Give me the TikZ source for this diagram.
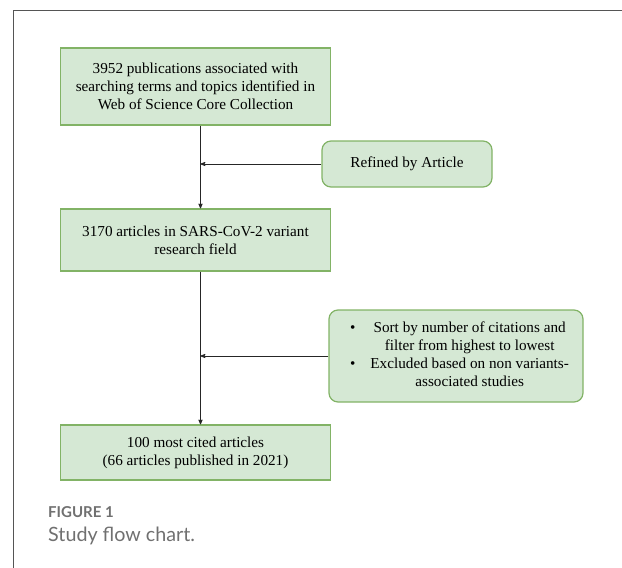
\documentclass[tikz,border=0pt]{standalone}
\usepackage{fontspec}
\setmainfont{Liberation Serif}
\newfontfamily\capfont{Lato}
\usetikzlibrary{arrows,positioning,calc}
\definecolor{boxfill}{HTML}{D5E8D4}
\definecolor{boxline}{HTML}{82B366}
\definecolor{framegray}{HTML}{555555}
\definecolor{capgray}{HTML}{707070}

\begin{document}
\begin{tikzpicture}[x=1pt,y=-1pt,>=stealth',
  box/.style={draw=boxline,fill=boxfill,line width=1.2pt,align=center,inner sep=0pt,
    font=\fontsize{15.2}{17.8}\selectfont},
  stepbox/.style={box,minimum width=270pt},
  notebox/.style={box,rounded corners=9pt},
  link/.style={draw=black!85,line width=0.8pt}]
\useasboundingbox (0,0) rectangle (622,568);
% frame of the panel
\draw[framegray,line width=1pt] (13,568) -- (13,10) -- (622,10);

% main column
\node[stepbox,minimum height=77pt] (pubs) at (195.5,86.5)
  {3952 publications associated with\\searching terms and topics identified in\\Web of Science Core Collection};
\node[stepbox,minimum height=62pt] (field) at (195.5,240)
  {3170 articles in SARS-CoV-2 variant\\research field};
\node[stepbox,minimum height=55pt] (top) at (195.5,452.5)
  {100 most cited articles\\(66 articles published in 2021)};

% side notes
\node[notebox,minimum width=170pt,minimum height=46pt] (refine) at (407,164)
  {Refined by Article};
\node[notebox,minimum width=254pt,minimum height=92pt] (sort) at (456,356)
  {\begin{tabular}{@{\hspace{7pt}}l@{\hspace{15pt}}c@{}}
   \textbullet & Sort by number of citations and\\
               & filter from highest to lowest\\
   \textbullet & Excluded based on non variants-\\
               & associated studies
   \end{tabular}};

% connectors (column line sits a little right of centre)
\coordinate (j1) at ([xshift=5pt]pubs.south |- refine.west);
\coordinate (j2) at ([xshift=5pt]field.south |- sort.west);
\draw[link,->] ([xshift=5pt]pubs.south) -- ([xshift=5pt]field.north);
\draw[link,->] ([xshift=5pt]field.south) -- ([xshift=5pt]top.north);
\draw[link,->] (refine.west) -- (j1);
\draw[link,->] (sort.west) -- (j2);

% caption
\node[anchor=base west,inner sep=0pt,text=capgray,font=\capfont\bfseries\fontsize{15}{17}\selectfont] (fig) at (48,517) {FIGURE 1};
\node[anchor=base west,inner sep=0pt,text=capgray,font=\capfont\fontsize{19.7}{23}\selectfont] (cap) at (48,541) {Study flow chart.};
\end{tikzpicture}
\end{document}
